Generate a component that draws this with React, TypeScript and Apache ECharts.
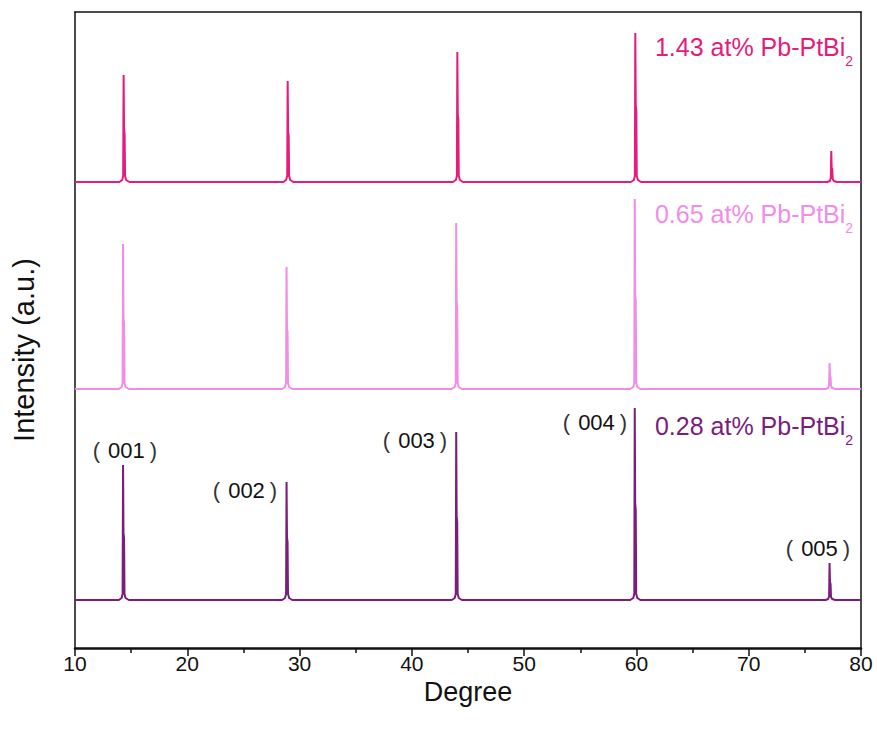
import React, { useEffect, useRef } from "react";
import * as echarts from "echarts";

const sampleNames = ["0.28 at% Pb-PtBi", "0.65 at% Pb-PtBi", "1.43 at% Pb-PtBi"];
const sampleColors = ["#7b1d7c", "#f18ce8", "#e61b7b"];
const sampleOffsets = [48, 259, 466];

// [2θ (degree), intensity above the series baseline]
const pattern028: number[][] = [
  [10, 0], [13.9, 0], [14.15, 2], [14.24, 6], [14.28, 135], [14.32, 67], [14.37, 62], [14.41, 6], [14.5, 2], [14.8, 0],
  [28.45, 0], [28.7, 2], [28.8, 6], [28.84, 118], [28.88, 63], [28.93, 58], [28.97, 6], [29.07, 2], [29.35, 0],
  [43.55, 0], [43.82, 2], [43.91, 6], [43.95, 168], [43.99, 84], [44.04, 78], [44.08, 6], [44.18, 2], [44.45, 0],
  [59.45, 0], [59.72, 2], [59.81, 6], [59.85, 192], [59.89, 97], [59.94, 90], [59.98, 6], [60.08, 2], [60.35, 0],
  [76.85, 0], [77.08, 1], [77.16, 4], [77.2, 37], [77.24, 18], [77.29, 16], [77.33, 3], [77.43, 1], [77.7, 0],
  [80, 0],
];
const pattern065: number[][] = [
  [10, 0], [13.9, 0], [14.15, 2], [14.24, 6], [14.28, 145], [14.32, 71], [14.37, 66], [14.41, 6], [14.5, 2], [14.8, 0],
  [28.45, 0], [28.7, 2], [28.8, 6], [28.84, 122], [28.88, 61], [28.93, 57], [28.97, 6], [29.07, 2], [29.35, 0],
  [43.55, 0], [43.82, 2], [43.91, 6], [43.95, 166], [43.99, 88], [44.04, 82], [44.08, 6], [44.18, 2], [44.45, 0],
  [59.45, 0], [59.72, 2], [59.81, 6], [59.85, 190], [59.89, 94], [59.94, 88], [59.98, 6], [60.08, 2], [60.35, 0],
  [76.85, 0], [77.08, 1], [77.16, 4], [77.2, 26], [77.24, 13], [77.29, 12], [77.33, 3], [77.43, 1], [77.7, 0],
  [80, 0],
];
const pattern143: number[][] = [
  [10, 0], [13.95, 0], [14.2, 2], [14.29, 6], [14.33, 107], [14.37, 52], [14.42, 48], [14.46, 6], [14.55, 2], [14.85, 0],
  [28.55, 0], [28.8, 2], [28.9, 6], [28.94, 101], [28.98, 50], [29.03, 46], [29.07, 6], [29.17, 2], [29.45, 0],
  [43.65, 0], [43.92, 2], [44.01, 6], [44.05, 130], [44.09, 68], [44.14, 63], [44.18, 6], [44.28, 2], [44.55, 0],
  [59.5, 0], [59.77, 2], [59.86, 6], [59.9, 149], [59.94, 77], [59.99, 71], [60.03, 6], [60.13, 2], [60.4, 0],
  [77.0, 0], [77.23, 1], [77.31, 4], [77.35, 31], [77.39, 14], [77.44, 13], [77.48, 3], [77.58, 1], [77.85, 0],
  [80, 0],
];
const patterns = [pattern028, pattern065, pattern143];

// Miller index annotations: [index, 2θ, y]
const peakLabels: [string, number, number][] = [
  ["001", 14.45, 198],
  ["002", 25.14, 158],
  ["003", 40.28, 208],
  ["004", 56.31, 226],
  ["005", 76.17, 100],
];
// Sample name anchors (top of the name line): [2θ, y]
const nameAnchors: number[][] = [
  [61.65, 235],
  [61.65, 447],
  [61.65, 614],
];

const xTicks = { min: 10, max: 80, interval: 10 };

export default function App() {
  const ref = useRef<HTMLDivElement>(null);
  useEffect(() => {
    if (!ref.current) return;
    const chart = echarts.init(ref.current, undefined, { renderer: "svg" });
    const font = "'Liberation Sans', Arial, sans-serif";
    const series: any[] = patterns.map((p, i) => ({
      type: "line",
      name: sampleNames[i],
      data: p.map(([x, y]) => [x, y + sampleOffsets[i]]),
      showSymbol: false,
      symbol: "none",
      smooth: false,
      lineStyle: { color: sampleColors[i], width: 2 },
      z: 3 + i,
      markPoint: {
        symbol: "rect",
        symbolSize: 0,
        silent: true,
        data: [
          {
            coord: nameAnchors[i],
            label: {
              show: true,
              position: [0, 0],
              align: "left",
              verticalAlign: "top",
              formatter: "{a|" + sampleNames[i] + "}{b|2}",
              rich: {
                a: { fontSize: 25, color: sampleColors[i], fontFamily: font, verticalAlign: "top", lineHeight: 30 },
                b: { fontSize: 14, color: sampleColors[i], fontFamily: font, verticalAlign: "top", lineHeight: 15, padding: [20, 0, 0, 0] },
              },
            },
          },
          ...(i === 0
            ? peakLabels.map(([t, x, y]) => ({
                coord: [x, y],
                label: {
                  show: true,
                  position: "inside",
                  formatter: "{l|(}{d|" + t + "}{r|)}",
                  rich: {
                    l: { fontSize: 22, color: "#333", fontFamily: font, padding: [0, 8, 0, 0] },
                    d: { fontSize: 22, color: "#111", fontFamily: font },
                    r: { fontSize: 22, color: "#333", fontFamily: font, padding: [0, 0, 0, 5] },
                  },
                },
              }))
            : []),
        ],
      },
    }));
    chart.setOption({
      animation: false,
      backgroundColor: "#fff",
      grid: { left: 75, right: 16, top: 12, bottom: 91, containLabel: false },
      xAxis: [
        {
          type: "value",
          min: xTicks.min,
          max: xTicks.max,
          interval: xTicks.interval,
          position: "bottom",
          name: "Degree",
          nameLocation: "middle",
          nameGap: 30,
          nameTextStyle: { fontSize: 27, color: "#111", fontFamily: font },
          axisLine: { show: true, onZero: false, lineStyle: { color: "#111", width: 2.5 } },
          axisTick: { show: true, inside: false, length: 8, lineStyle: { color: "#111", width: 1.5 } },
          minorTick: { show: true, splitNumber: 2, length: 5, lineStyle: { color: "#111", width: 1.5 } },
          axisLabel: { fontSize: 21, color: "#111", fontFamily: font, margin: 5 },
          splitLine: { show: false },
        },
        {
          type: "value",
          min: xTicks.min,
          max: xTicks.max,
          position: "top",
          axisLine: { show: true, onZero: false, lineStyle: { color: "#111", width: 1.5 } },
          axisTick: { show: false },
          axisLabel: { show: false },
          splitLine: { show: false },
        },
      ],
      yAxis: [
        {
          type: "value",
          min: 0,
          max: 636,
          position: "left",
          name: "Intensity (a.u.)",
          nameLocation: "middle",
          nameGap: 37,
          nameTextStyle: { fontSize: 29, color: "#111", fontFamily: font, padding: [0, 40, 0, 0] },
          axisLine: { show: true, onZero: false, lineStyle: { color: "#111", width: 1.5 } },
          axisTick: { show: false },
          axisLabel: { show: false },
          splitLine: { show: false },
        },
        {
          type: "value",
          min: 0,
          max: 636,
          position: "right",
          axisLine: { show: true, onZero: false, lineStyle: { color: "#111", width: 1.5 } },
          axisTick: { show: false },
          axisLabel: { show: false },
          splitLine: { show: false },
        },
      ],
      series,
    });
    return () => chart.dispose();
  }, []);
  return <div ref={ref} style={{ width: 877, height: 739, position: "absolute", left: 0, top: 0 }} />;
}
